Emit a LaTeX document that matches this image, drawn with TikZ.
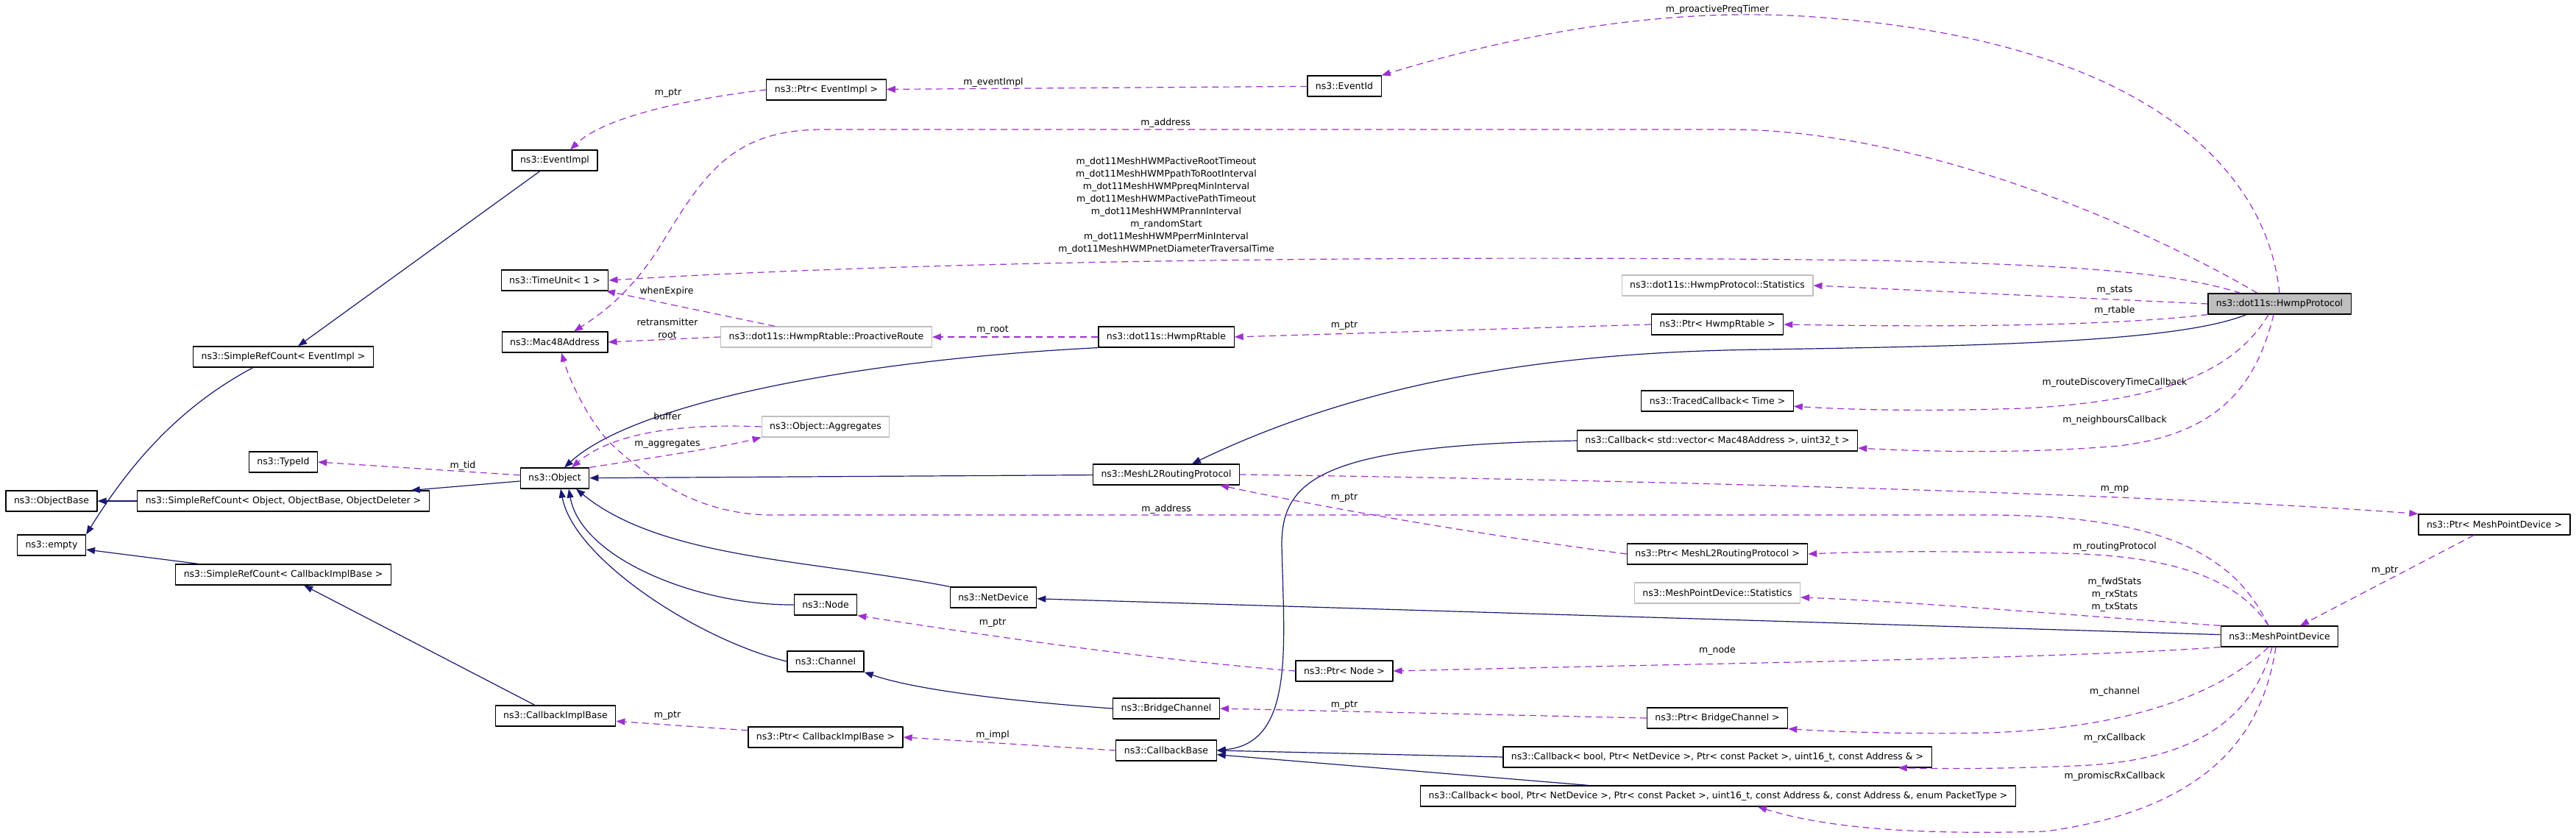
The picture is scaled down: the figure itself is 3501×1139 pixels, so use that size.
\documentclass[tikz,border=0pt]{standalone}
\usepackage{fontspec}
\setmainfont{DejaVu Sans}
\usetikzlibrary{arrows.meta}
\definecolor{inhblue}{HTML}{191970}
\definecolor{usepurple}{HTML}{9A32CD}
\definecolor{undoc}{HTML}{BFBFBF}
\begin{document}
\begin{tikzpicture}[x=1pt, y=-1pt, >={Triangle[length=12pt,width=9pt]}, line join=round,
    every node/.style={font=\fontsize{12.5}{17}\selectfont},
    cls/.style={draw=black, fill=white, line width=1.2pt, minimum height=28pt, inner xsep=11pt, inner ysep=0pt},
    grey/.style={cls, draw=undoc},
    self/.style={cls, fill=undoc},
    inh/.style={->, draw=inhblue, line width=1.2pt},
    use/.style={->, draw=usepurple, line width=1.2pt, dash pattern=on 9pt off 6pt},
    lbl/.style={inner sep=0pt, align=center}]
  \useasboundingbox (0,0) rectangle (3501,1139);
  \fill[white] (0,0) rectangle (3501,1139);
  % classes
  \node[cls] (eventimpl) at (754,218) {ns3::EventImpl};
  \node[cls] (srcEventImpl) at (385,485) {ns3::SimpleRefCount< EventImpl >};
  \node[cls] (timeunit) at (754,381) {ns3::TimeUnit< 1 >};
  \node[cls] (mac) at (754,465) {ns3::Mac48Address};
  \node[cls] (typeid) at (385,628) {ns3::TypeId};
  \node[cls] (object) at (754,650) {ns3::Object};
  \node[cls] (objectbase) at (70,681) {ns3::ObjectBase};
  \node[cls] (srcObject) at (385,681) {ns3::SimpleRefCount< Object, ObjectBase, ObjectDeleter >};
  \node[cls] (empty) at (70,741) {ns3::empty};
  \node[cls] (srcCbImpl) at (385,781) {ns3::SimpleRefCount< CallbackImplBase >};
  \node[cls] (cbimplbase) at (755,973) {ns3::CallbackImplBase};
  \node[cls] (ptrEventImpl) at (1123,122) {ns3::Ptr< EventImpl >};
  \node[grey] (proactive) at (1123,458) {ns3::dot11s::HwmpRtable::ProactiveRoute};
  \node[cls] (rtable) at (1585,458) {ns3::dot11s::HwmpRtable};
  \node[grey] (aggregates) at (1122,580) {ns3::Object::Aggregates};
  \node[cls] (meshl2) at (1585,645) {ns3::MeshL2RoutingProtocol};
  \node[cls] (netdevice) at (1350,812) {ns3::NetDevice};
  \node[cls] (nsnode) at (1122,822) {ns3::Node};
  \node[cls] (channel) at (1122,899) {ns3::Channel};
  \node[cls] (bridgechannel) at (1585,963) {ns3::BridgeChannel};
  \node[cls] (ptrCbImpl) at (1122,1002) {ns3::Ptr< CallbackImplBase >};
  \node[cls] (callbackbase) at (1585,1020) {ns3::CallbackBase};
  \node[cls] (eventid) at (1827,117) {ns3::EventId};
  \node[grey] (hwmpstats) at (2334,388) {ns3::dot11s::HwmpProtocol::Statistics};
  \node[cls] (ptrRtable) at (2334,441) {ns3::Ptr< HwmpRtable >};
  \node[cls] (traced) at (2334,545) {ns3::TracedCallback< Time >};
  \node[cls] (cbVector) at (2334,599) {ns3::Callback< std::vector< Mac48Address >, uint32\_t >};
  \node[cls] (ptrMeshL2) at (2334,753) {ns3::Ptr< MeshL2RoutingProtocol >};
  \node[grey] (mpstats) at (2334,806) {ns3::MeshPointDevice::Statistics};
  \node[cls] (ptrNode) at (1827,912) {ns3::Ptr< Node >};
  \node[cls] (ptrBridge) at (2334,976) {ns3::Ptr< BridgeChannel >};
  \node[cls] (cbRx) at (2334,1029) {ns3::Callback< bool, Ptr< NetDevice >, Ptr< const Packet >, uint16\_t, const Address \& >};
  \node[cls] (cbPromisc) at (2335,1082) {ns3::Callback< bool, Ptr< NetDevice >, Ptr< const Packet >, uint16\_t, const Address \&, const Address \&, enum PacketType >};
  \node[self] (hwmp) at (3098,413) {ns3::dot11s::HwmpProtocol};
  \node[cls] (ptrMp) at (3390,713) {ns3::Ptr< MeshPointDevice >};
  \node[cls] (mp) at (3098,865) {ns3::MeshPointDevice};
  % inheritance
  \draw[inh] (eventimpl) -- (srcEventImpl);
  \draw[inh] ([xshift=-41]srcEventImpl.south) .. controls (230,560) and (165,650) .. (empty.north east);
  \draw[inh] (srcObject) -- (objectbase);
  \draw[inh] (object) -- (srcObject);
  \draw[inh] (srcCbImpl) -- (empty);
  \draw[inh] (cbimplbase) -- (srcCbImpl);
  \draw[inh] (rtable.south west) .. controls (1150,490) and (860,550) .. ([xshift=13]object.north);
  \draw[inh] (meshl2) -- (object);
  \draw[inh] (netdevice.north west) .. controls (1100,760) and (900,760) .. ([xshift=29]object.south);
  \draw[inh] (nsnode.west) .. controls (950,823) and (790,760) .. ([xshift=19]object.south);
  \draw[inh] (channel.west) .. controls (950,870) and (780,760) .. ([xshift=8]object.south);
  \draw[inh] (bridgechannel.west) .. controls (1400,955) and (1250,940) .. (channel.south east);
  \draw[inh] ([xshift=-45]hwmp.south) .. controls (2960,465) and (2700,470) .. (2400,475)
    .. controls (2100,478) and (1850,520) .. ([xshift=35]meshl2.north);
  \draw[inh] (mp) -- (netdevice);
  \draw[inh] (cbVector.west) .. controls (1800,605) and (1742,650) .. (1742,740)
    .. controls (1745,880) and (1760,1010) .. (callbackbase.east);
  \draw[inh] (cbRx.west) -- (callbackbase.east);
  \draw[inh] (cbPromisc) -- (callbackbase);
  % members
  \draw[use] (ptrEventImpl.west) .. controls (930,135) and (820,160) .. ([xshift=21]eventimpl.north);
  \draw[use] (eventid) -- (ptrEventImpl);
  \draw[use] (hwmp.north) .. controls (3080,220) and (2900,50) .. (2450,22)
    .. controls (2250,10) and (2050,50) .. (eventid.north east);
  \draw[use] ([xshift=-30]hwmp.north) .. controls (2900,300) and (2600,176) .. (2350,176) -- (1120,176)
    .. controls (1000,176) and (960,230) .. (900,330) .. controls (860,395) and (820,425) .. ([xshift=26]mac.north);
  \draw[use] ([xshift=-53]hwmp.north) .. controls (2950,368) and (2800,360) .. (2550,354)
    .. controls (1800,345) and (1200,358) .. (timeunit.east);
  \draw[use] (proactive) -- (timeunit);
  \draw[use] (proactive.west) -- (mac.east);
  \draw[use] (rtable.west) -- (proactive.east);
  \draw[use] (ptrRtable.west) -- (rtable.east);
  \draw[use] (hwmp.south west) .. controls (2900,440) and (2700,446) .. (ptrRtable.east);
  \draw[use] (hwmp.west) -- (hwmpstats.east);
  \draw[use] ([xshift=-15]hwmp.south) .. controls (3040,500) and (2950,545) .. (2750,555)
    .. controls (2600,560) and (2500,556) .. (traced.-4);
  \draw[use] ([xshift=-8]hwmp.south) .. controls (3065,530) and (3010,590) .. (2880,606)
    .. controls (2750,617) and (2620,614) .. (cbVector.-3);
  \draw[use] (object.175) -- (typeid.east);
  \draw[use] (object.north east) .. controls (900,620) and (980,608) .. (aggregates.south west);
  \draw[use] (aggregates.west) .. controls (920,575) and (830,590) .. ([xshift=23]object.north);
  \draw[use] ([xshift=-15]mp.north) .. controls (3040,760) and (2950,700) .. (2700,700) -- (1050,700)
    .. controls (950,700) and (880,650) .. (827,600) .. controls (800,570) and (775,520) .. ([xshift=9]mac.south);
  \draw[use] (ptrMeshL2.west) .. controls (2000,725) and (1800,690) .. ([xshift=73]meshl2.south);
  \draw[use] (meshl2.east) .. controls (2200,652) and (2900,670) .. (ptrMp.north west);
  \draw[use] (ptrMp) -- (mp);
  \draw[use] ([xshift=-15]mp.north) .. controls (3050,800) and (2980,755) .. (2800,752)
    .. controls (2650,749) and (2550,749) .. (ptrMeshL2.east);
  \draw[use] (mp.north west) .. controls (2800,835) and (2600,818) .. (mpstats.-3);
  \draw[use] (mp.south west) .. controls (2800,895) and (2400,900) .. (ptrNode.east);
  \draw[use] (ptrNode.west) .. controls (1550,895) and (1350,865) .. (nsnode.south east);
  \draw[use] (ptrBridge.west) -- (bridgechannel.east);
  \draw[use] ([xshift=-15]mp.south) .. controls (3020,940) and (2900,990) .. (2700,996)
    .. controls (2600,998) and (2500,995) .. (ptrBridge.south east);
  \draw[use] ([xshift=-10]mp.south) .. controls (3060,980) and (2980,1035) .. (2820,1041)
    .. controls (2720,1045) and (2650,1045) .. ([xshift=-46]cbRx.south east);
  \draw[use] ([xshift=-5]mp.south) .. controls (3075,1000) and (3000,1100) .. (2780,1130)
    .. controls (2600,1135) and (2480,1125) .. ([xshift=54]cbPromisc.south);
  \draw[use] (ptrCbImpl.175) -- (cbimplbase.-5);
  \draw[use] (callbackbase.west) -- (ptrCbImpl.east);
  % labels
  \node[lbl] (lptrEvent) at (908,127) {m\_ptr};
  \node[lbl] (leventImpl) at (1350,112) {m\_eventImpl};
  \node[lbl] (ltimer) at (2334,13) {m\_proactivePreqTimer};
  \node[lbl] (laddrTop) at (1584,167) {m\_address};
  \node[lbl] (ltimes) at (1585,280) {m\_dot11MeshHWMPactiveRootTimeout\\m\_dot11MeshHWMPpathToRootInterval\\m\_dot11MeshHWMPpreqMinInterval\\m\_dot11MeshHWMPactivePathTimeout\\m\_dot11MeshHWMPrannInterval\\m\_randomStart\\m\_dot11MeshHWMPperrMinInterval\\m\_dot11MeshHWMPnetDiameterTraversalTime};
  \node[lbl] (lexpire) at (906,396) {whenExpire};
  \node[lbl] (lretrans) at (907,446) {retransmitter\\root};
  \node[lbl] (lroot) at (1349,449) {m\_root};
  \node[lbl] (lptrRtable) at (1827,443) {m\_ptr};
  \node[lbl] (lrtable) at (2874,422) {m\_rtable};
  \node[lbl] (lstats) at (2874,395) {m\_stats};
  \node[lbl] (lroute) at (2874,520) {m\_routeDiscoveryTimeCallback};
  \node[lbl] (lneigh) at (2874,571) {m\_neighboursCallback};
  \node[lbl] (ltid) at (629,633) {m\_tid};
  \node[lbl] (laggr) at (907,604) {m\_aggregates};
  \node[lbl] (lbuffer) at (907,566) {buffer};
  \node[lbl] (laddrLow) at (1585,692) {m\_address};
  \node[lbl] (lptrMeshL2) at (1827,677) {m\_ptr};
  \node[lbl] (lmp) at (2874,665) {m\_mp};
  \node[lbl] (lptrMp) at (3241,776) {m\_ptr};
  \node[lbl] (lrouting) at (2874,743) {m\_routingProtocol};
  \node[lbl] (lmpstats) at (2874,808) {m\_fwdStats\\m\_rxStats\\m\_txStats};
  \node[lbl] (lnode) at (2334,884) {m\_node};
  \node[lbl] (lptrNode) at (1349,847) {m\_ptr};
  \node[lbl] (lptrBridge) at (1827,959) {m\_ptr};
  \node[lbl] (lchannel) at (2874,940) {m\_channel};
  \node[lbl] (lrx) at (2874,1003) {m\_rxCallback};
  \node[lbl] (lpromisc) at (2874,1055) {m\_promiscRxCallback};
  \node[lbl] (lptrCb) at (907,973) {m\_ptr};
  \node[lbl] (limpl) at (1349,999) {m\_impl};
\end{tikzpicture}
\end{document}
